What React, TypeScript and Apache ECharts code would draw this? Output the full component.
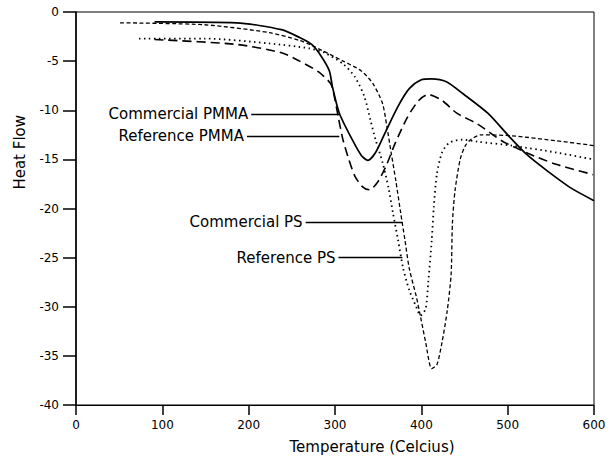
import React, { useEffect, useRef } from "react";
import * as echarts from "echarts";

// Commercial PMMA (solid)
const commPmmaT = [91, 186, 238, 259, 273, 284, 293.5, 297, 305, 320, 330.5, 338, 347, 358, 373, 386, 400, 412, 429, 448, 477, 501, 522, 547, 573, 600];
const commPmmaHF = [-1.0, -1.1, -1.8, -2.6, -3.3, -4.5, -6.0, -7.6, -10.3, -13.0, -14.6, -15.1, -14.3, -12.3, -9.6, -7.8, -6.9, -6.8, -7.1, -8.3, -10.3, -12.6, -14.5, -16.25, -17.9, -19.2];

// Reference PMMA (long dashes)
const refPmmaT = [91, 186, 238, 259, 281, 295, 299, 304, 309.5, 316, 323, 332, 340, 349.5, 360, 369.5, 384, 397, 408, 424, 441, 465, 493, 524, 556, 599];
const refPmmaHF = [-2.8, -3.3, -4.15, -5.0, -6.1, -7.3, -8.5, -10.8, -13.1, -15.0, -16.7, -17.8, -18.1, -17.3, -15.5, -13.4, -10.7, -9.0, -8.4, -9.0, -10.3, -11.4, -13.1, -14.4, -15.5, -16.55];

// Commercial PS (dotted)
const commPsT = [73, 149, 224, 270, 288, 309.5, 323, 334, 341, 347, 355, 362, 367, 373, 379, 386, 394, 399, 405, 408, 412, 414.5, 418, 424, 432.5, 447, 465, 505, 556, 599];
const commPsHF = [-2.7, -2.7, -3.2, -3.7, -4.15, -5.3, -6.6, -8.6, -11.0, -13.0, -15.3, -17.9, -20.4, -23.2, -26.1, -28.3, -30.0, -30.9, -30.2, -27.5, -23.3, -19.8, -16.5, -14.3, -13.3, -13.0, -13.2, -13.6, -14.3, -15.0];

// Reference PS (short dashes)
const refPsT = [51, 149, 224, 259, 273, 309.5, 330.5, 344, 355, 360, 365, 370.5, 376, 381, 386, 394, 399, 405, 412, 418, 424, 430, 434.5, 436, 439, 445, 451, 457, 469, 505, 556, 600];
const refPsHF = [-1.1, -1.3, -2.1, -2.9, -3.4, -5.0, -6.0, -7.3, -9.3, -11.6, -14.3, -17.2, -20.4, -23.2, -26.1, -28.9, -31.0, -33.6, -36.3, -35.9, -33.6, -30.4, -26.7, -21.5, -18.2, -15.0, -13.6, -13.0, -12.5, -12.6, -13.1, -13.6];

// Annotations
const annLabels = ["Commercial PMMA", "Reference PMMA", "Commercial PS", "Reference PS"];
const annStartT = [203, 198, 266, 304];
const annEndT = [305, 305, 378, 378];
const annHF = [-10.4, -12.6, -21.4, -25.0];

const xTicks = { min: 0, max: 600, interval: 100 };
const yTicks = { min: -40, max: 0, interval: 5 };

const FONT = "DejaVu Sans";

function pairs(t: number[], v: number[]) {
  return t.map((x, i) => [x, v[i]]);
}

export default function App() {
  const ref = useRef<HTMLDivElement>(null);
  useEffect(() => {
    if (!ref.current) return;
    const chart = echarts.init(ref.current, undefined, { renderer: "svg" });
    const markData = annLabels.map((lab, i) => [
      { coord: [annStartT[i], annHF[i]], name: lab },
      { coord: [annEndT[i], annHF[i]] },
    ]);
    const base = {
      type: "line",
      symbol: "none",
      smooth: 0.25,
      silent: true,
    };
    chart.setOption({
      animation: false,
      backgroundColor: "#fff",
      textStyle: { fontFamily: FONT, color: "#000" },
      grid: {
        left: 76,
        right: 17,
        top: 12,
        bottom: 58,
        show: true,
        borderColor: "#000",
        borderWidth: 1,
        backgroundColor: "transparent",
      },
      xAxis: {
        type: "value",
        ...xTicks,
        axisLine: { show: true, onZero: false, lineStyle: { color: "#000", width: 1.2 } },
        axisTick: { show: true, length: 10, lineStyle: { color: "#000", width: 1.5 } },
        axisLabel: { color: "#000", fontSize: 12, fontFamily: FONT, margin: 14 },
        splitLine: { show: false },
      },
      yAxis: {
        type: "value",
        ...yTicks,
        axisLine: { show: true, onZero: false, lineStyle: { color: "#000", width: 1.5 } },
        axisTick: { show: true, length: 13, lineStyle: { color: "#000", width: 1.5 } },
        axisLabel: { color: "#000", fontSize: 12, fontFamily: FONT, margin: 17 },
        splitLine: { show: false },
      },
      graphic: [
        {
          type: "text",
          left: 12,
          top: 115,
          rotation: Math.PI / 2,
          style: { text: "Heat Flow", fontSize: 15, fontFamily: FONT, fill: "#000" },
        },
        {
          type: "text",
          x: 372,
          y: 447,
          style: {
            text: "Temperature (Celcius)",
            fontSize: 15,
            fontFamily: FONT,
            fill: "#000",
            align: "center",
            verticalAlign: "middle",
          },
        },
      ],
      series: [
        {
          ...base,
          name: "Commercial PMMA",
          data: pairs(commPmmaT, commPmmaHF),
          lineStyle: { color: "#000", width: 1.7, type: "solid" },
          markLine: {
            silent: true,
            symbol: "none",
            lineStyle: { color: "#000", width: 1.4, type: "solid" },
            label: {
              show: true,
              position: "start",
              formatter: "{b}",
              color: "#000",
              fontSize: 15,
              fontFamily: FONT,
              distance: 3,
            },
            data: markData,
          },
        },
        {
          ...base,
          name: "Reference PMMA",
          data: pairs(refPmmaT, refPmmaHF),
          lineStyle: { color: "#000", width: 1.6, type: [9, 5] },
        },
        {
          ...base,
          name: "Commercial PS",
          data: pairs(commPsT, commPsHF),
          lineStyle: { color: "#000", width: 1.8, type: [1.5, 3.5] },
        },
        {
          ...base,
          name: "Reference PS",
          data: pairs(refPsT, refPsHF),
          lineStyle: { color: "#000", width: 1.3, type: [4, 2.5] },
        },
      ],
    });
    return () => chart.dispose();
  }, []);
  return <div ref={ref} style={{ width: 611, height: 463, position: "absolute", left: 0, top: 0 }} />;
}
